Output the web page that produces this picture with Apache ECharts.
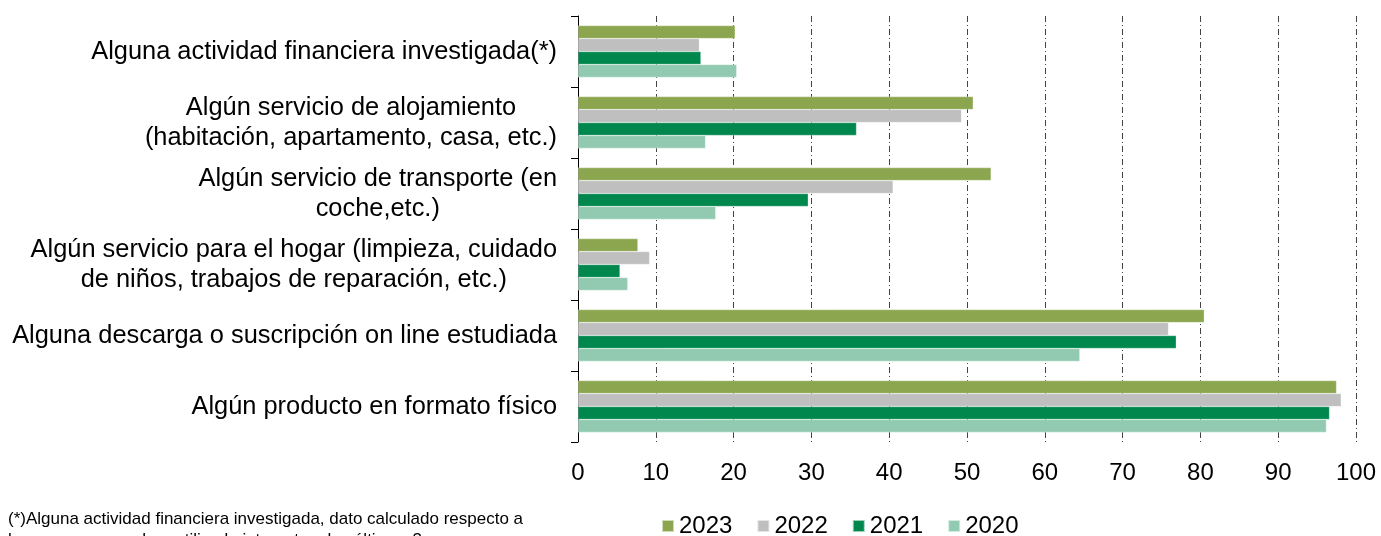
<!DOCTYPE html>
<html><head><meta charset="utf-8">
<script src="https://cdn.jsdelivr.net/npm/echarts@6/dist/echarts.min.js"></script>
<style>html,body{margin:0;padding:0;background:#fff}#c{width:1381px;height:536px}</style>
</head><body><div id="c"></div>
<script>
const categories = [
  "Alguna actividad financiera investigada(*)",
  "Algún servicio de alojamiento\n(habitación, apartamento, casa, etc.)",
  "Algún servicio de transporte (en\ncoche,etc.)",
  "Algún servicio para el hogar (limpieza, cuidado\nde niños, trabajos de reparación, etc.)",
  "Alguna descarga o suscripción on line estudiada",
  "Algún producto en formato físico"
];
const seriesNames = ["2023", "2022", "2021", "2020"];
const v2023 = [20.2, 50.8, 53.1, 7.7, 80.5, 97.5];
const v2022 = [15.6, 49.3, 40.5, 9.2, 75.9, 98.1];
const v2021 = [15.8, 35.8, 29.6, 5.4, 76.9, 96.6];
const v2020 = [20.4, 16.4, 17.7, 6.4, 64.5, 96.2];
const xTicks = [0, 10, 20, 30, 40, 50, 60, 70, 80, 90, 100];
const note = "(*)Alguna actividad financiera investigada, dato calculado respecto a\nlas personas que han utilizado internet en los últimos 3 meses";

const colors = ["#8BA64E", "#BFBFBF", "#00874D", "#92CAB1"];
const values = [v2023, v2022, v2021, v2020];
const font = "Liberation Sans, Arial, sans-serif";

const chart = echarts.init(document.getElementById('c'));
chart.setOption({
  animation: false,
  textStyle: { fontFamily: font },
  grid: { left: 578, right: 25, top: 16, bottom: 94, containLabel: false },
  legend: {
    data: seriesNames,
    left: 661, top: 514, padding: 0,
    itemWidth: 12, itemHeight: 12, itemGap: 24,
    icon: 'rect',
    textStyle: { fontSize: 24, color: '#000', fontFamily: font }
  },
  xAxis: {
    type: 'value', min: xTicks[0], max: xTicks[xTicks.length - 1], interval: 10,
    axisLine: { show: false },
    axisTick: { show: false },
    axisLabel: { fontSize: 24, color: '#000', margin: 19, fontFamily: font },
    splitLine: { show: true, lineStyle: { color: '#444', width: 1, type: [6, 3, 1, 3] } }
  },
  yAxis: {
    type: 'category', data: categories, inverse: true,
    axisLine: { show: true, lineStyle: { color: '#000', width: 1 } },
    axisTick: { show: true, length: 7, inside: false, lineStyle: { color: '#000' } },
    axisLabel: {
      margin: 21, align: 'right', color: '#000',
      formatter: function (s) { return s.split('\n').map(l => '{c|' + l + '}').join('\n'); },
      rich: { c: { align: 'center', fontSize: 25.4, lineHeight: 30, color: '#000', fontFamily: font } }
    }
  },
  series: seriesNames.map((n, i) => ({
    name: n, type: 'bar', data: values[i],
    barGap: '0%', barCategoryGap: '27%',
    itemStyle: { color: colors[i], borderColor: 'rgba(255,255,255,0.6)', borderWidth: 0.5 }
  })),
  graphic: [{
    type: 'text', left: 8, top: 509,
    style: { text: note, fontSize: 17, lineHeight: 21, fill: '#000', fontFamily: font }
  }]
});
</script></body></html>
